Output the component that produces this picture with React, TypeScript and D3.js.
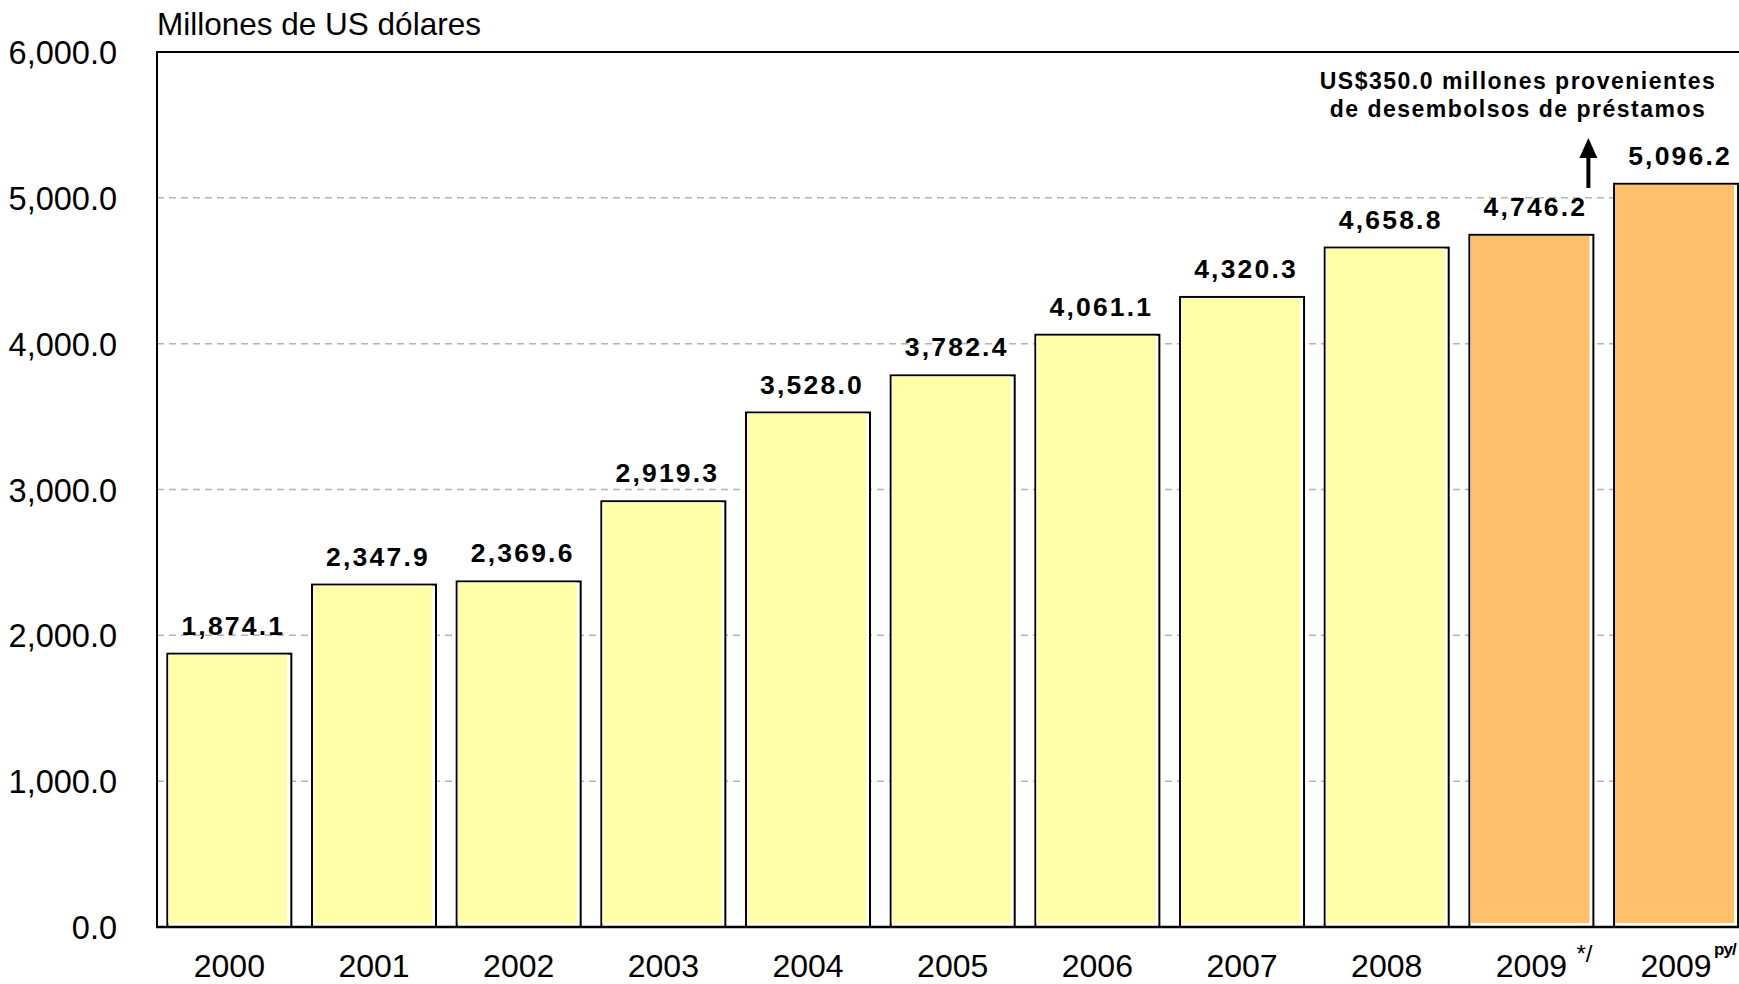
import React from "react";
import * as d3 from "d3";

const categories = ["2000", "2001", "2002", "2003", "2004", "2005", "2006", "2007", "2008", "2009", "2009"];
const superscripts = ["", "", "", "", "", "", "", "", "", "*/", "py/"];
const values = [1874.1, 2347.9, 2369.6, 2919.3, 3528.0, 3782.4, 4061.1, 4320.3, 4658.8, 4746.2, 5096.2];
const highlighted = [false, false, false, false, false, false, false, false, false, true, true];
const yTicks = [0, 1000, 2000, 3000, 4000, 5000, 6000];
const unitLabel = "Millones de US dólares";
const noteLines = ["US$350.0 millones provenientes", "de desembolsos de préstamos"];

const W = 1739;
const H = 984;
const FONT = "'Liberation Sans', Arial, Helvetica, sans-serif";

export default function App() {
  const left = 157;
  const right = 1748.4;
  const top = 52;
  const bottom = 927;
  const idx = categories.map((_, i) => String(i));
  const x = d3.scaleBand<string>().domain(idx).range([left, right]).paddingInner(0.143).paddingOuter(0.0715);
  const y = d3.scaleLinear().domain([0, 6000]).range([bottom, top]);
  const fmtTick = d3.format(",.1f");
  const fmtVal = d3.format(",.1f");
  const bw = x.bandwidth();

  const bar2009 = x("9")! + bw / 2;
  const arrowX = bar2009 + 57;

  return (
    <svg width={W} height={H} style={{ position: "absolute", left: 0, top: 0, background: "#fff" }} fontFamily={FONT}>
      <rect x={0} y={0} width={W} height={H} fill="#fff" />
      {/* gridlines */}
      {yTicks.filter((t) => t > 0 && t < 6000).map((t) => (
        <line key={"g" + t} x1={left} x2={W} y1={y(t)} y2={y(t)} stroke="#b4b4b4" strokeWidth={1.5} strokeDasharray="7 5" />
      ))}
      {/* bars */}
      {values.map((v, i) => {
        const x0 = x(String(i))!;
        const yt = y(v);
        return (
          <g key={"b" + i}>
            <rect x={x0} y={yt} width={bw} height={bottom - yt} fill="#ffffff" stroke="#000" strokeWidth={2} />
            <rect x={x0 + 1} y={yt + 1} width={bw - 5} height={bottom - yt - 5} fill={highlighted[i] ? "#FFBF6B" : "#FFFFAA"} />
          </g>
        );
      })}
      {/* frame */}
      <line x1={left} x2={W} y1={top} y2={top} stroke="#000" strokeWidth={2} />
      <line x1={left} x2={left} y1={top - 1} y2={bottom + 1} stroke="#000" strokeWidth={2} />
      <line x1={left - 1} x2={W} y1={bottom} y2={bottom} stroke="#000" strokeWidth={2.5} />
      {/* y tick labels */}
      {yTicks.map((t) => (
        <text key={"t" + t} x={117} y={y(t) + 12} textAnchor="end" fontSize={32.5} fill="#000">
          {fmtTick(t)}
        </text>
      ))}
      {/* unit label */}
      <text x={157} y={35} fontSize={31.5} fill="#000">{unitLabel}</text>
      {/* value labels */}
      {values.map((v, i) => (
        <text key={"v" + i} x={x(String(i))! + bw / 2 + 4} y={y(v) - 19} textAnchor="middle" fontSize={26.5} fontWeight="bold" letterSpacing={2.2} fill="#000">
          {fmtVal(v)}
        </text>
      ))}
      {/* category labels */}
      {categories.map((c, i) => {
        const cx = x(String(i))! + bw / 2;
        return (
          <g key={"c" + i}>
            <text x={cx} y={977} textAnchor="middle" fontSize={32} fill="#000">{c}</text>
            {superscripts[i] === "*/" && (
              <text x={cx + 45} y={962} fontSize={24} fill="#000">{superscripts[i]}</text>
            )}
            {superscripts[i] === "py/" && (
              <text x={cx + 38} y={955} fontSize={17} fontWeight="bold" letterSpacing={-1} fill="#000">{superscripts[i]}</text>
            )}
          </g>
        );
      })}
      {/* annotation */}
      {noteLines.map((l, i) => (
        <text key={"n" + i} x={1518} y={89 + i * 28} textAnchor="middle" fontSize={23} fontWeight="bold" letterSpacing={1.5} fill="#000">
          {l}
        </text>
      ))}
      <line x1={arrowX} x2={arrowX} y1={188} y2={152} stroke="#000" strokeWidth={4} />
      <path d={`M${arrowX - 9},${158} L${arrowX},${138} L${arrowX + 9},${158} Z`} fill="#000" />
    </svg>
  );
}
